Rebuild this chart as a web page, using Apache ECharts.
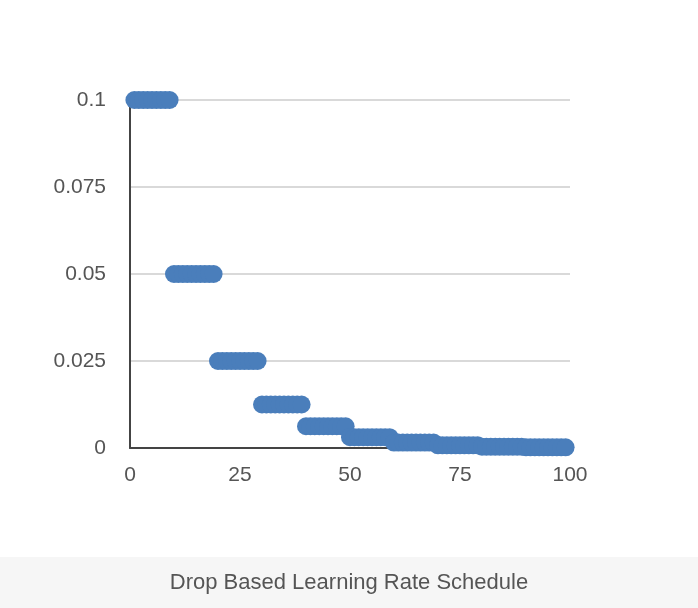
<!DOCTYPE html>
<html>
<head>
<meta charset="utf-8">
<script src="https://cdn.jsdelivr.net/npm/echarts@6/dist/echarts.min.js"></script>
<style>
  html, body { margin: 0; padding: 0; background: #fff; }
  #chart { width: 698px; height: 608px; }
</style>
</head>
<body>
<div id="chart"></div>
<script>
// epochs and learning rate
var epochs = [
  1, 2, 3, 4, 5, 6, 7, 8, 9,
  10, 11, 12, 13, 14, 15, 16, 17, 18, 19,
  20, 21, 22, 23, 24, 25, 26, 27, 28, 29,
  30, 31, 32, 33, 34, 35, 36, 37, 38, 39,
  40, 41, 42, 43, 44, 45, 46, 47, 48, 49,
  50, 51, 52, 53, 54, 55, 56, 57, 58, 59,
  60, 61, 62, 63, 64, 65, 66, 67, 68, 69,
  70, 71, 72, 73, 74, 75, 76, 77, 78, 79,
  80, 81, 82, 83, 84, 85, 86, 87, 88, 89,
  90, 91, 92, 93, 94, 95, 96, 97, 98, 99
];
var lrates = [
  0.1, 0.1, 0.1, 0.1, 0.1, 0.1, 0.1, 0.1, 0.1,
  0.05, 0.05, 0.05, 0.05, 0.05, 0.05, 0.05, 0.05, 0.05, 0.05,
  0.025, 0.025, 0.025, 0.025, 0.025, 0.025, 0.025, 0.025, 0.025, 0.025,
  0.0125, 0.0125, 0.0125, 0.0125, 0.0125, 0.0125, 0.0125, 0.0125, 0.0125, 0.0125,
  0.00625, 0.00625, 0.00625, 0.00625, 0.00625, 0.00625, 0.00625, 0.00625, 0.00625, 0.00625,
  0.003125, 0.003125, 0.003125, 0.003125, 0.003125, 0.003125, 0.003125, 0.003125, 0.003125, 0.003125,
  0.0015625, 0.0015625, 0.0015625, 0.0015625, 0.0015625, 0.0015625, 0.0015625, 0.0015625, 0.0015625, 0.0015625,
  0.00078125, 0.00078125, 0.00078125, 0.00078125, 0.00078125, 0.00078125, 0.00078125, 0.00078125, 0.00078125, 0.00078125,
  0.000390625, 0.000390625, 0.000390625, 0.000390625, 0.000390625, 0.000390625, 0.000390625, 0.000390625, 0.000390625, 0.000390625,
  0.0001953125, 0.0001953125, 0.0001953125, 0.0001953125, 0.0001953125, 0.0001953125, 0.0001953125, 0.0001953125, 0.0001953125, 0.0001953125
];
var xTicks = [0, 25, 50, 75, 100];
var yTicks = [0, 0.025, 0.05, 0.075, 0.1];
var caption = 'Drop Based Learning Rate Schedule';

var points = [];
for (var i = 0; i < epochs.length; i++) {
  points.push([epochs[i], lrates[i]]);
}

var font = 'Liberation Sans, Arial, sans-serif';
var chart = echarts.init(document.getElementById('chart'));
chart.setOption({
  animation: false,
  backgroundColor: '#fff',
  grid: { left: 130, right: 128, top: 100, bottom: 160 },
  xAxis: {
    type: 'value',
    min: xTicks[0],
    max: xTicks[xTicks.length - 1],
    interval: 25,
    axisLine: { show: true, lineStyle: { color: '#444', width: 2 } },
    axisTick: { show: false },
    splitLine: { show: false },
    axisLabel: { color: '#555', fontSize: 21, fontFamily: font, margin: 17 }
  },
  yAxis: {
    type: 'value',
    min: yTicks[0],
    max: yTicks[yTicks.length - 1],
    interval: 0.025,
    axisLine: { show: true, lineStyle: { color: '#444', width: 2 } },
    axisTick: { show: false },
    splitLine: { show: true, lineStyle: { color: '#ccc', width: 1.5 } },
    axisLabel: { color: '#555', fontSize: 21, fontFamily: font, margin: 24 }
  },
  series: [{
    type: 'scatter',
    data: points,
    symbol: 'circle',
    symbolSize: 18,
    itemStyle: { color: '#4a7ebb', opacity: 1 },
    z: 3
  }],
  graphic: [
    { type: 'rect', left: 0, top: 557, shape: { width: 698, height: 51 }, style: { fill: '#f6f6f6' }, z: -1 },
    { type: 'text', left: 'center', top: 572, style: { text: caption, fill: '#555', fontSize: 22, fontFamily: font } }
  ]
});
</script>
</body>
</html>
